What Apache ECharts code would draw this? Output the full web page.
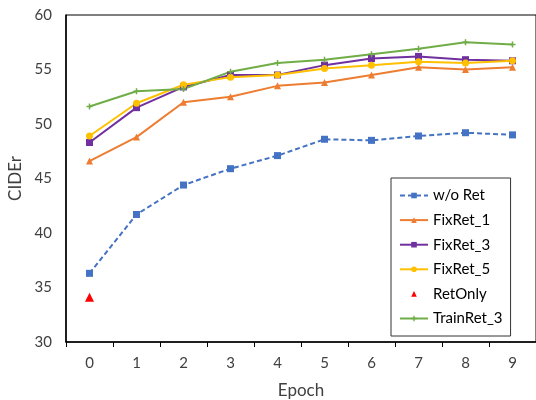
<!DOCTYPE html>
<html><head><meta charset="utf-8">
<script src="https://cdn.jsdelivr.net/npm/echarts@6/dist/echarts.min.js"></script>
<style>html,body{margin:0;padding:0;background:#fff;overflow:hidden}#c{width:536px;height:400px}</style>
</head><body><div id="c"></div>
<script>
const epochs = ['0','1','2','3','4','5','6','7','8','9'];
const woRet = [36.3, 41.7, 44.4, 45.9, 47.1, 48.6, 48.5, 48.9, 49.2, 49.0];
const fixRet1 = [46.6, 48.8, 52.0, 52.5, 53.5, 53.8, 54.5, 55.2, 55.0, 55.2];
const fixRet3 = [48.3, 51.5, 53.4, 54.5, 54.5, 55.4, 56.0, 56.2, 55.9, 55.8];
const fixRet5 = [48.9, 51.9, 53.6, 54.3, 54.5, 55.1, 55.4, 55.7, 55.6, 55.8];
const retOnly = [34.1];
const trainRet3 = [51.6, 53.0, 53.2, 54.8, 55.6, 55.9, 56.4, 56.9, 57.5, 57.3];
const yTicks = {min: 30, max: 60, interval: 5};

const font = 'Lato, "Open Sans", sans-serif';
const plus = 'path://M3,0H5V3H8V5H5V8H3V5H0V3H3Z';
function lineSeries(name, data, color, symbol, size, dashed) {
  return {
    name, type: 'line', data, symbol, symbolSize: size,
    itemStyle: {color},
    lineStyle: {color, width: 2, type: dashed ? [5, 3] : 'solid'},
    z: 3
  };
}
const retOnlySeries = lineSeries('RetOnly', retOnly, '#FF0000', 'triangle', 9, false);
retOnlySeries.lineStyle.opacity = 0;
retOnlySeries.showAllSymbol = true;

const chart = echarts.init(document.getElementById('c'), null, {renderer: 'canvas'});
chart.setOption({
  animation: false,
  grid: {left: 66, top: 15, right: 0, bottom: 58, show: true, borderColor: '#000', borderWidth: 1,
         outerBoundsMode: 'none', containLabel: false},
  legend: {
    orient: 'vertical', left: 391, top: 178, padding: [10, 8, 10, 8],
    borderColor: '#333', borderWidth: 1, backgroundColor: '#fff',
    itemWidth: 28, itemHeight: 7, itemGap: 9.6,
    textStyle: {fontFamily: font, fontSize: 15, color: '#000'},
    data: ['w/o Ret', 'FixRet_1', 'FixRet_3', 'FixRet_5', 'RetOnly', 'TrainRet_3']
  },
  xAxis: {
    type: 'category', data: epochs, boundaryGap: true,
    name: 'Epoch', nameLocation: 'middle', nameGap: 40,
    nameTextStyle: {fontFamily: font, fontSize: 17, color: '#404040'},
    axisLine: {lineStyle: {color: '#000', width: 1.5}},
    axisTick: {show: true, length: 5, lineStyle: {color: '#000'}},
    axisLabel: {fontFamily: font, fontSize: 15, color: '#404040', margin: 14},
    splitLine: {show: false}
  },
  yAxis: {
    type: 'value', min: yTicks.min, max: yTicks.max, interval: yTicks.interval,
    name: 'CIDEr', nameLocation: 'middle', nameGap: 40,
    nameTextStyle: {fontFamily: font, fontSize: 17, color: '#404040'},
    axisLine: {show: true, lineStyle: {color: '#000', width: 1.5}},
    axisTick: {show: false},
    axisLabel: {fontFamily: font, fontSize: 15, color: '#404040', margin: 14},
    splitLine: {show: false}
  },
  series: [
    lineSeries('w/o Ret', woRet, '#4472C4', 'rect', 7, true),
    lineSeries('FixRet_1', fixRet1, '#ED7D31', 'triangle', 7, false),
    lineSeries('FixRet_3', fixRet3, '#7030A0', 'rect', 7, false),
    lineSeries('FixRet_5', fixRet5, '#FFC000', 'circle', 7, false),
    retOnlySeries,
    lineSeries('TrainRet_3', trainRet3, '#70AD47', plus, 6, false)
  ]
});
</script></body></html>
